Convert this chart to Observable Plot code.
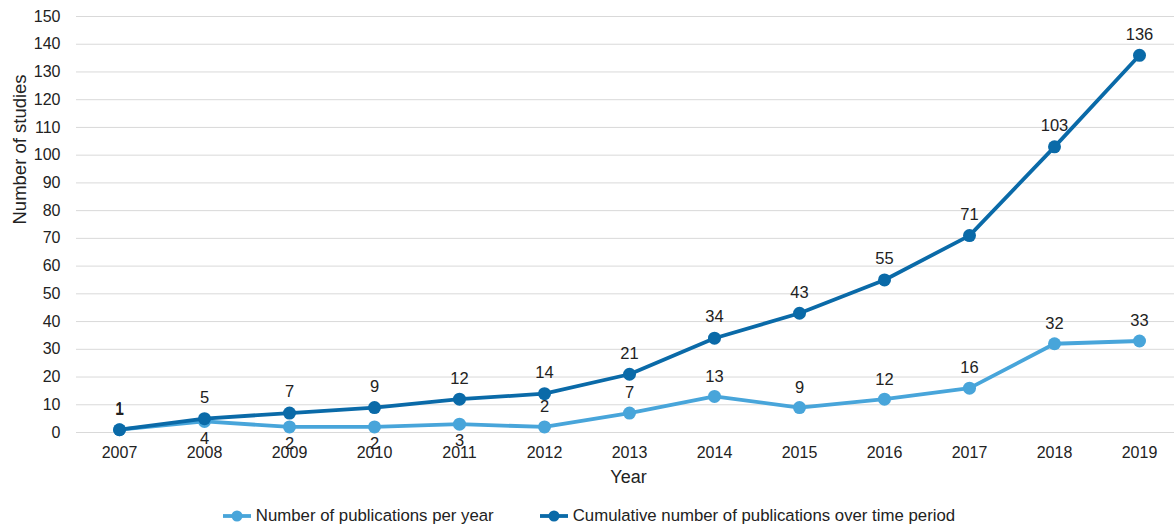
<!DOCTYPE html>
<html>
<head>
<meta charset="utf-8">
<script src="https://cdn.jsdelivr.net/npm/d3@7"></script>
<script src="https://cdn.jsdelivr.net/npm/@observablehq/plot@0.6"></script>
<style>
  body { margin: 0; background: #fff; font-family: "Liberation Sans", Arial, sans-serif; }
  #chart svg { display: block; }
  .legend { display: flex; justify-content: center; align-items: center; gap: 46px;
            padding-left: 4px; margin-top: 10px; height: 20px; font-size: 16.8px; color: #222; }
  .legend .item { display: flex; align-items: center; gap: 5px; }
</style>
</head>
<body>
<div id="chart"></div>
<div class="legend" id="legend"></div>
<script>
const years = [2007, 2008, 2009, 2010, 2011, 2012, 2013, 2014, 2015, 2016, 2017, 2018, 2019];
const perYear = [1, 4, 2, 2, 3, 2, 7, 13, 9, 12, 16, 32, 33];
const cumulative = [1, 5, 7, 9, 12, 14, 21, 34, 43, 55, 71, 103, 136];
const yTicks = d3.range(0, 151, 10);
const seriesNames = ["Number of publications per year", "Cumulative number of publications over time period"];
const colors = ["#48a5da", "#0a6aa8"];

const rowsPer = years.map((y, i) => ({year: String(y), value: perYear[i], below: y >= 2008 && y <= 2011}));
const rowsCum = years.map((y, i) => ({year: String(y), value: cumulative[i]}));

const chart = Plot.plot({
  width: 1174,
  height: 496,
  marginLeft: 76,
  marginRight: 0,
  marginTop: 16,
  marginBottom: 64,
  style: {fontFamily: "'Liberation Sans', Arial, sans-serif", fontSize: "16px", color: "#222"},
  x: {type: "point", domain: years.map(String), range: [118, 1139], padding: 0},
  y: {domain: [0, 150]},
  marks: [
    Plot.ruleY(yTicks, {stroke: "#d9d9d9", strokeWidth: 1}),
    Plot.axisY({ticks: yTicks, tickSize: 0, tickPadding: 16, label: null, fontSize: 16}),
    Plot.text(["Number of studies"], {frameAnchor: "left", dx: -56, rotate: -90, fontSize: 18.5}),
    Plot.axisX({tickSize: 0, tickPadding: 14, label: null, fontSize: 16}),
    Plot.text(["Year"], {frameAnchor: "bottom", dy: 50, dx: 3, fontSize: 18}),
    Plot.line(rowsPer, {x: "year", y: "value", stroke: colors[0], strokeWidth: 3.8}),
    Plot.dot(rowsPer, {x: "year", y: "value", r: 6.5, fill: colors[0]}),
    Plot.line(rowsCum, {x: "year", y: "value", stroke: colors[1], strokeWidth: 3.8}),
    Plot.dot(rowsCum, {x: "year", y: "value", r: 6.5, fill: colors[1]}),
    Plot.text(rowsPer.filter(d => d.below), {x: "year", y: "value", text: "value", dy: 17, fill: "#222", fontSize: 16.5}),
    Plot.text(rowsPer.filter(d => !d.below), {x: "year", y: "value", text: "value", dy: -20, fill: "#222", fontSize: 16.5}),
    Plot.text(rowsCum, {x: "year", y: "value", text: "value", dy: -21, fill: "#222", fontSize: 16.5})
  ]
});
document.getElementById("chart").append(chart);

// legend below the chart
const legend = d3.select("#legend");
seriesNames.forEach((name, i) => {
  const item = legend.append("div").attr("class", "item");
  const sw = item.append("svg").attr("width", 28).attr("height", 14);
  sw.append("line").attr("x1", 0).attr("x2", 28).attr("y1", 7).attr("y2", 7)
    .attr("stroke", colors[i]).attr("stroke-width", 3.8);
  sw.append("circle").attr("cx", 14).attr("cy", 7).attr("r", 5.5).attr("fill", colors[i]);
  item.append("span").text(name);
});
</script>
</body>
</html>
